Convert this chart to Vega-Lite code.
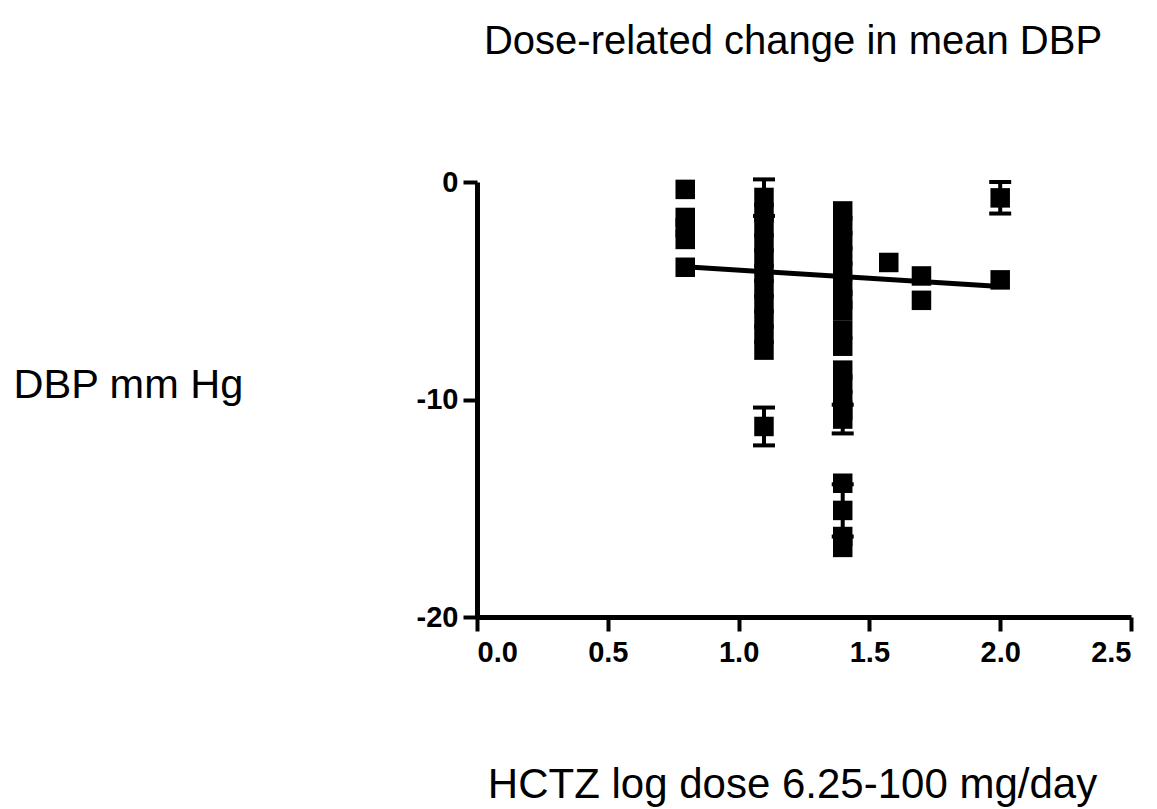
{
  "$schema": "https://vega.github.io/schema/vega-lite/v6.json",
  "width": 654,
  "height": 435,
  "autosize": {"type": "none"},
  "padding": {"left": 477, "top": 182, "right": 26, "bottom": 192},
  "background": "white",
  "title": {
    "text": "Dose-related change in mean DBP",
    "font": "Liberation Sans",
    "fontSize": 40,
    "fontWeight": "normal",
    "color": "black",
    "anchor": "middle",
    "offset": 106,
    "dx": -11
  },
  "config": {
    "view": {"stroke": null},
    "axis": {
      "grid": false,
      "domainColor": "black",
      "domainWidth": 5,
      "tickColor": "black",
      "tickWidth": 4,
      "tickSize": 14,
      "labelFont": "Liberation Sans",
      "labelFontWeight": "bold",
      "labelFontSize": 29,
      "labelColor": "black",
      "titleFont": "Liberation Sans",
      "titleFontWeight": "normal",
      "titleColor": "black"
    }
  },
  "datasets": {
    "points": [
      {"x": 0.796, "y": -0.34},
      {"x": 0.796, "y": -1.63},
      {"x": 0.796, "y": -2.1},
      {"x": 0.796, "y": -2.64},
      {"x": 0.796, "y": -3.92},
      {"x": 1.097, "y": -0.71, "lo": -1.56, "hi": 0.12},
      {"x": 1.097, "y": -1.4},
      {"x": 1.097, "y": -2.1},
      {"x": 1.097, "y": -2.8},
      {"x": 1.097, "y": -3.5},
      {"x": 1.097, "y": -4.2},
      {"x": 1.097, "y": -4.9},
      {"x": 1.097, "y": -5.6},
      {"x": 1.097, "y": -6.3},
      {"x": 1.097, "y": -7.0},
      {"x": 1.097, "y": -7.73},
      {"x": 1.097, "y": -11.24, "lo": -12.11, "hi": -10.37},
      {"x": 1.398, "y": -1.33},
      {"x": 1.398, "y": -2.0},
      {"x": 1.398, "y": -2.7},
      {"x": 1.398, "y": -3.4},
      {"x": 1.398, "y": -4.1},
      {"x": 1.398, "y": -4.8},
      {"x": 1.398, "y": -5.4},
      {"x": 1.398, "y": -5.9},
      {"x": 1.398, "y": -6.8},
      {"x": 1.398, "y": -7.55},
      {"x": 1.398, "y": -8.65},
      {"x": 1.398, "y": -9.3},
      {"x": 1.398, "y": -10.0},
      {"x": 1.398, "y": -10.5},
      {"x": 1.398, "y": -10.9, "lo": -11.56, "hi": -10.24},
      {"x": 1.398, "y": -13.85},
      {"x": 1.398, "y": -15.1, "lo": -16.3, "hi": -13.9},
      {"x": 1.398, "y": -16.3},
      {"x": 1.398, "y": -16.8},
      {"x": 1.574, "y": -3.7},
      {"x": 1.699, "y": -4.32},
      {"x": 1.699, "y": -5.44},
      {"x": 2.0, "y": -0.73, "lo": -1.45, "hi": 0.0},
      {"x": 2.0, "y": -4.5}
    ],
    "fit": [
      {"x": 0.796, "y": -3.9},
      {"x": 2.0, "y": -4.8}
    ]
  },
  "layer": [
    {
      "data": {"name": "fit"},
      "mark": {"type": "line", "color": "black", "strokeWidth": 5},
      "encoding": {
        "x": {
          "field": "x",
          "type": "quantitative",
          "scale": {"domain": [0, 2.5], "nice": false, "zero": false},
          "axis": {
            "values": [0, 0.5, 1, 1.5, 2, 2.5],
            "format": ".1f",
            "labelPadding": 7,
            "title": "HCTZ log dose 6.25-100 mg/day",
            "titleFontSize": 42,
            "titleX": 315,
            "titleY": 180,
            "titleAlign": "center",
            "titleBaseline": "alphabetic"
          }
        },
        "y": {
          "field": "y",
          "type": "quantitative",
          "scale": {"domain": [-20, 0], "nice": false, "zero": false},
          "axis": {
            "values": [-20, -10, 0],
            "labelExpr": "toString(datum.value)",
            "labelPadding": 5,
            "title": "DBP mm Hg",
            "titleFontSize": 41.5,
            "titleAngle": 0,
            "titleAlign": "left",
            "titleBaseline": "alphabetic",
            "titleX": -464,
            "titleY": 215
          }
        }
      }
    },
    {
      "data": {"name": "points"},
      "transform": [{"filter": "isValid(datum.lo)"}],
      "mark": {"type": "rule", "color": "black", "strokeWidth": 4},
      "encoding": {
        "x": {"field": "x", "type": "quantitative"},
        "y": {"field": "lo", "type": "quantitative"},
        "y2": {"field": "hi"}
      }
    },
    {
      "data": {"name": "points"},
      "transform": [{"filter": "isValid(datum.lo)"}],
      "mark": {"type": "tick", "color": "black", "orient": "horizontal", "size": 22, "thickness": 4, "opacity": 1},
      "encoding": {
        "x": {"field": "x", "type": "quantitative"},
        "y": {"field": "lo", "type": "quantitative"}
      }
    },
    {
      "data": {"name": "points"},
      "transform": [{"filter": "isValid(datum.hi)"}],
      "mark": {"type": "tick", "color": "black", "orient": "horizontal", "size": 22, "thickness": 4, "opacity": 1},
      "encoding": {
        "x": {"field": "x", "type": "quantitative"},
        "y": {"field": "hi", "type": "quantitative"}
      }
    },
    {
      "data": {"name": "points"},
      "mark": {"type": "point", "shape": "square", "filled": true, "color": "black", "opacity": 1, "size": 380},
      "encoding": {
        "x": {"field": "x", "type": "quantitative"},
        "y": {"field": "y", "type": "quantitative"}
      }
    }
  ]
}
